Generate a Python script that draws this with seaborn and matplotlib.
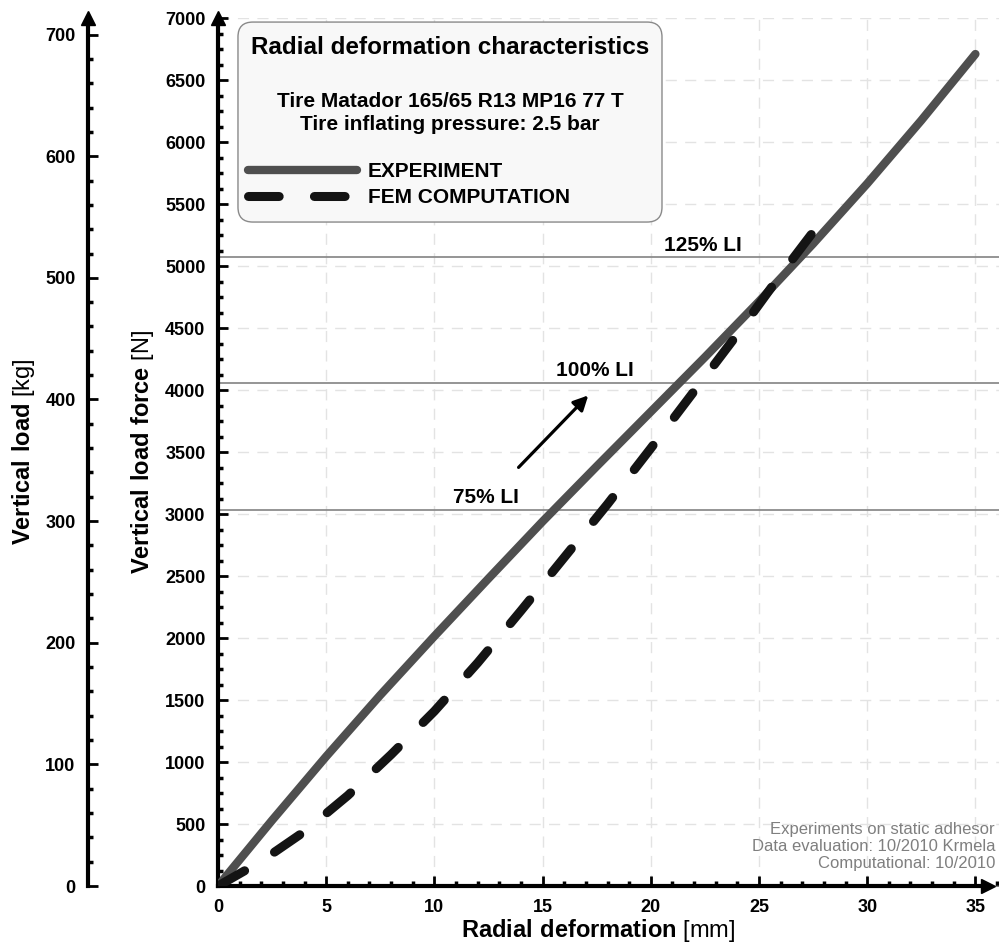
import numpy as np
import pandas as pd
import matplotlib
matplotlib.use("Agg")
import matplotlib.pyplot as plt
from matplotlib.patches import FancyBboxPatch
from matplotlib.ticker import MultipleLocator
import seaborn as sns

# data
exp_mm = [0, 2.5, 5, 7.5, 10, 12.5, 15, 17.5, 20, 22.5, 25, 27.5, 30, 32.5, 35]
exp_n = [0, 530, 1045, 1540, 2015, 2480, 2940, 3385, 3825, 4265, 4715, 5180, 5665, 6175, 6710]

fem_mm = [0, 2, 4, 6, 8, 10, 12, 14, 16, 18, 20, 22, 24, 26, 27.7]
fem_n = [0, 200, 440, 730, 1060, 1410, 1800, 2220, 2650, 3080, 3530, 3990, 4450, 4930, 5320]

li_names = ["75% LI", "100% LI", "125% LI"]
li_levels = [3035, 4060, 5070]

box_title = "Radial deformation characteristics"
box_sub = "Tire Matador 165/65 R13 MP16 77 T\nTire inflating pressure: 2.5 bar"
note = "Experiments on static adhesor\nData evaluation: 10/2010 Krmela\nComputational: 10/2010"

exp_df = pd.DataFrame({"mm": exp_mm, "N": exp_n})
fem_df = pd.DataFrame({"mm": fem_mm, "N": fem_n})

sns.set_style("white")
plt.rcParams["font.family"] = ["Liberation Sans", "DejaVu Sans"]
plt.rcParams["mathtext.fontset"] = "custom"
plt.rcParams["mathtext.rm"] = "Liberation Sans"
plt.rcParams["mathtext.bf"] = "Liberation Sans:bold"
plt.rcParams["text.color"] = "black"
plt.rcParams["axes.labelcolor"] = "black"
plt.rcParams["xtick.color"] = "black"
plt.rcParams["ytick.color"] = "black"

fig = plt.figure(figsize=(9.99, 9.46), dpi=100)
ax = fig.add_axes([0.2182, 0.0634, 0.7818, 0.9175])
axk = fig.add_axes([0.0881, 0.0634, 0.001, 0.9175])

# curves
sns.lineplot(data=exp_df, x="mm", y="N", ax=ax, color="#4f4f4f", lw=6,
             solid_capstyle="round", solid_joinstyle="round", label="EXPERIMENT", zorder=4)
sns.lineplot(data=fem_df, x="mm", y="N", ax=ax, color="#141414", lw=6.5,
             linestyle=(0, (3.4, 3.9)), dash_capstyle="round",
             label="FEM COMPUTATION", zorder=5)

# load index lines
for v in li_levels:
    ax.axhline(v, color="#8c8c8c", lw=1.3, zorder=2)
for name, v, xpos in zip(li_names, li_levels, [12.4, 17.4, 22.4]):
    ax.text(xpos, v + 55, name, ha="center", va="baseline", fontsize=15, fontweight="bold")

ax.annotate("", xy=(17.2, 3973), xytext=(13.8, 3360),
            arrowprops=dict(arrowstyle="-|>", color="k", lw=2.3, mutation_scale=22))

# axes
ax.set_xlim(0, 36.09)
ax.set_ylim(0, 7000)
ax.xaxis.set_major_locator(MultipleLocator(5))
ax.xaxis.set_minor_locator(MultipleLocator(1))
ax.yaxis.set_major_locator(MultipleLocator(500))
ax.yaxis.set_minor_locator(MultipleLocator(125))
ax.tick_params(which="both", left=True, bottom=True)
ax.tick_params(which="major", direction="in", length=7, width=2, labelsize=13, pad=9)
ax.tick_params(which="minor", direction="in", length=3.5, width=2.5)
plt.setp(ax.get_xticklabels(), fontweight="bold")
plt.setp(ax.get_yticklabels(), fontweight="bold")
ax.grid(True, which="major", color="#e3e3e3", lw=1, ls=(0, (8, 6)))
ax.set_axisbelow(True)
for s in ["top", "right"]:
    ax.spines[s].set_visible(False)
for s in ["left", "bottom"]:
    ax.spines[s].set_linewidth(3)
    ax.spines[s].set_color("k")
ax.spines["bottom"].set_bounds(0, 35.6)
ax.plot([35.6], [0], marker=">", color="k", ms=10, clip_on=False, zorder=6)
ax.plot([0], [7000], marker="^", color="k", ms=10, clip_on=False, zorder=6)

ax.set_xlabel(r"$\mathbf{Radial\ deformation}$ [mm]", fontsize=17)
ax.set_ylabel(r"$\mathbf{Vertical\ load\ force}$ [N]", fontsize=17)
ax.xaxis.set_label_coords(0.5986, 0.0302, transform=fig.transFigure)
ax.yaxis.set_label_coords(0.1565, 0.5222, transform=fig.transFigure)

# kg axis
axk.patch.set_visible(False)
axk.set_xlim(0, 1)
axk.set_ylim(0, 7000 / 9.81)
axk.set_xticks([])
axk.yaxis.set_major_locator(MultipleLocator(100))
axk.yaxis.set_minor_locator(MultipleLocator(20))
axk.tick_params(which="both", left=True)
axk.tick_params(which="major", direction="in", length=7, width=2, labelsize=13, pad=9)
axk.tick_params(which="minor", direction="in", length=3.5, width=2.5)
plt.setp(axk.get_yticklabels(), fontweight="bold")
for s in ["top", "right", "bottom"]:
    axk.spines[s].set_visible(False)
axk.spines["left"].set_linewidth(3)
axk.spines["left"].set_color("k")
axk.plot([0], [7000 / 9.81], marker="^", color="k", ms=10, clip_on=False)
axk.set_ylabel(r"$\mathbf{Vertical\ load}$ [kg]", fontsize=17)
axk.yaxis.set_label_coords(0.037, 0.5222, transform=fig.transFigure)

# info box
box = FancyBboxPatch((0.0256, 0.765), 0.5429, 0.2304, boxstyle="round,pad=0,rounding_size=0.019",
                     mutation_aspect=0.9, transform=ax.transAxes, facecolor="#f8f8f8",
                     edgecolor="#8a8a8a", lw=1, zorder=7)
ax.add_patch(box)
ax.text(0.297, 0.9666, box_title, transform=ax.transAxes, ha="center", va="center",
        fontsize=17.5, fontweight="bold", zorder=8)
ax.text(0.297, 0.8905, box_sub, transform=ax.transAxes, ha="center", va="center",
        fontsize=15, fontweight="bold", linespacing=1.25, zorder=8)

handles, labels = ax.get_legend_handles_labels()
leg = ax.legend(handles, labels, loc="center left", bbox_to_anchor=(0.0384, 0.8082),
                frameon=False, prop={"weight": "bold", "size": 15}, handlelength=5.24,
                handletextpad=0.5, borderpad=0, borderaxespad=0, labelspacing=0.35)
leg.set_zorder(9)

ax.text(0.995, 0.0173, note, transform=ax.transAxes, ha="right", va="bottom",
        fontsize=12, color="#7f7f7f", linespacing=1.15)

fig.savefig("out.png", dpi=100)
